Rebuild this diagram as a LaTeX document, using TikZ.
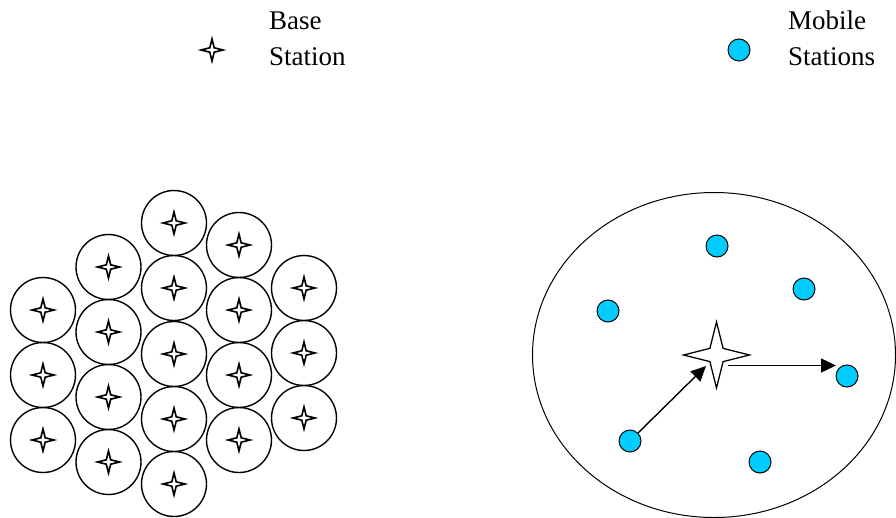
\documentclass[tikz,border=0pt]{standalone}
\usepackage{fontspec}
\setmainfont{Liberation Serif}
\newfontfamily\lblfont{Liberation Serif}
\usetikzlibrary{arrows.meta}
\definecolor{mscyan}{RGB}{0,204,255}
\tikzset{
  cell/.style={circle,draw,line width=1.4pt,minimum size=65pt,inner sep=0pt},
  mobile/.style={circle,draw,line width=1pt,fill=mscyan,minimum size=22pt,inner sep=0pt},
  lbl/.style={inner sep=0pt,anchor=base west,font=\lblfont\fontsize{27}{36}\selectfont},
  link/.style={line width=1.4pt,-{Triangle[length=15pt,width=14pt]}},
  bstar/.pic={
    \draw[fill=white,line width=1.6pt,line join=miter]
      (0,-1) -- (0.2,-0.2) -- (1,0) -- (0.2,0.2) -- (0,1) -- (-0.2,0.2) -- (-1,0) -- (-0.2,-0.2) -- cycle;
  },
  bigstar/.pic={
    \draw[fill=white,line width=1.3pt,line join=miter]
      (0,-1) -- (0.2,-0.2) -- (1,0) -- (0.2,0.2) -- (0,1) -- (-0.2,0.2) -- (-1,0) -- (-0.2,-0.2) -- cycle;
  }
}
\begin{document}
\begin{tikzpicture}[x=1pt,y=-1pt]
\useasboundingbox (0,0) rectangle (896,517);
% legend
\pic[scale=11] at (212,50) {bstar};
\node[lbl] (lb1) at (269,29) {Base};
\node[lbl] (lb2) at (269,65) {Station};
\node[mobile] (lm) at (739,50) {};
\node[lbl] (lm1) at (788,29) {Mobile};
\node[lbl] (lm2) at (788,65) {Stations};
% cells
\foreach \x/\y [count=\i] in {
  43/310, 43/375, 43/440,
  108.5/267, 108.5/332, 108.5/397, 108.5/462,
  174/223, 174/288, 174/354, 174/419, 174/484,
  239/245, 239/310, 239/375, 239/440,
  304/288, 304/353, 304/418}{
  \node[cell] (c\i) at (\x,\y) {};
  \pic[scale=11] at (\x,\y) {bstar};
}
% right cell
\draw[line width=1pt] (714,355) ellipse [x radius=181.5, y radius=162.5];
\pic[scale=33] at (716.5,355) {bigstar};
\node[mobile] (m1) at (717,246) {};
\node[mobile] (m2) at (804,289) {};
\node[mobile] (m3) at (608,311) {};
\node[mobile] (m4) at (847,376) {};
\node[mobile] (m5) at (630,441) {};
\node[mobile] (m6) at (760,462) {};
\coordinate (in) at (706,366);
\coordinate (out) at (728,365.5);
\coordinate (outend) at (836,365.5);
\draw[link] (m5.45) -- (in);
\draw[link] (out) -- (outend);
\end{tikzpicture}
\end{document}
